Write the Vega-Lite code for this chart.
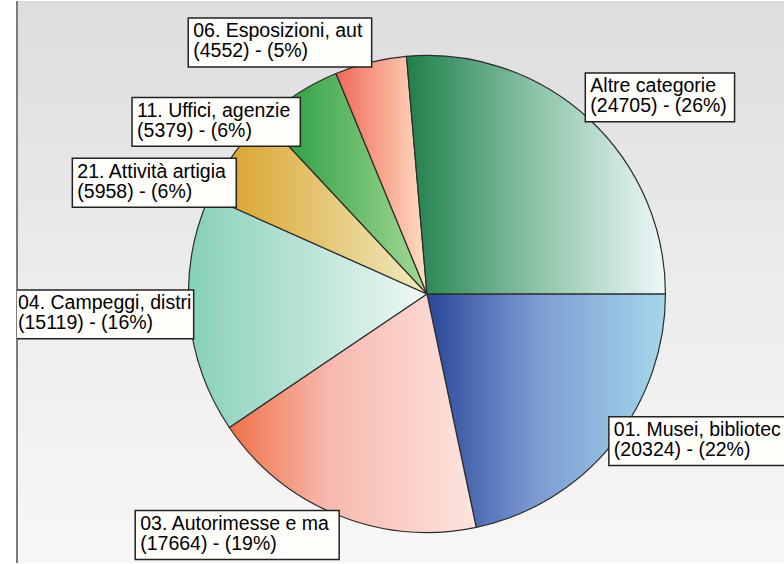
{
  "$schema": "https://vega.github.io/schema/vega-lite/v6.json",
  "width": 784,
  "height": 564,
  "autosize": {"type": "fit", "contains": "padding"},
  "padding": {"left": 16, "top": 0, "right": 0, "bottom": 0},
  "background": "#ffffff",
  "config": {
    "view": {
      "stroke": null,
      "fill": {"gradient": "linear", "x1": 0, "y1": 0, "x2": 0, "y2": 1,
        "stops": [{"offset": 0, "color": "#dddddd"}, {"offset": 0.5, "color": "#ececec"}, {"offset": 1, "color": "#f8f7f5"}]}
    }
  },
  "data": {
    "values": [
      {"k": 1, "name": "01. Musei, bibliotec", "value": 20324},
      {"k": 2, "name": "03. Autorimesse e ma", "value": 17664},
      {"k": 3, "name": "04. Campeggi, distri", "value": 15119},
      {"k": 4, "name": "21. Attività artigia", "value": 5958},
      {"k": 5, "name": "11. Uffici, agenzie", "value": 5379},
      {"k": 6, "name": "06. Esposizioni, aut", "value": 4552},
      {"k": 7, "name": "Altre categorie", "value": 24705}
    ]
  },
  "transform": [
    {"joinaggregate": [{"op": "sum", "field": "value", "as": "total"}]},
    {"stack": "value", "groupby": [], "sort": [{"field": "k", "order": "ascending"}], "as": ["v0", "v1"]},
    {"calculate": "PI/2 + 2*PI*datum.v0/datum.total", "as": "a0"},
    {"calculate": "PI/2 + 2*PI*datum.v1/datum.total", "as": "a1"},
    {"calculate": "(datum.a0 + datum.a1)/2", "as": "m"},
    {"calculate": "(datum.m*180/PI) % 360", "as": "md"},
    {"calculate": "0.98323*sin(datum.m)", "as": "ax"},
    {"calculate": "0.98323*cos(datum.m)", "as": "ay"},
    {"calculate": "round(100*datum.value/datum.total)", "as": "pct"},
    {"calculate": "'(' + datum.value + ') - (' + datum.pct + '%)'", "as": "l2"},
    {"calculate": "datum.name + '\\n' + datum.l2", "as": "lab"},
    {"calculate": "0.556*length(datum.name) - 0.334*length(replace(datum.name, regexp('[^ijl]','g'), '')) - 0.278*length(replace(datum.name, regexp('[^tf., ]','g'), '')) - 0.223*length(replace(datum.name, regexp('[^r()-]','g'), '')) - 0.056*length(replace(datum.name, regexp('[^szckvxy]','g'), '')) + 0.277*length(replace(datum.name, regexp('[^mM%]','g'), '')) + 0.14*length(replace(datum.name, regexp('[^A-LN-Z]','g'), ''))", "as": "e1"},
    {"calculate": "0.556*length(datum.l2) - 0.334*length(replace(datum.l2, regexp('[^ijl]','g'), '')) - 0.278*length(replace(datum.l2, regexp('[^tf., ]','g'), '')) - 0.223*length(replace(datum.l2, regexp('[^r()-]','g'), '')) - 0.056*length(replace(datum.l2, regexp('[^szckvxy]','g'), '')) + 0.277*length(replace(datum.l2, regexp('[^mM%]','g'), '')) + 0.14*length(replace(datum.l2, regexp('[^A-LN-Z]','g'), ''))", "as": "e2"},
    {"calculate": "(max(datum.e1, datum.e2)*19.5 + 14)/238.5", "as": "bw"},
    {"calculate": "49/238.5", "as": "bh"},
    {"calculate": "sin(datum.m) >= 0 ? datum.ax : datum.ax - datum.bw", "as": "rx0"},
    {"calculate": "datum.rx0 + datum.bw", "as": "bx1"},
    {"calculate": "max(datum.rx0, -1.72117 - 4/238.5)", "as": "bx0"},
    {"calculate": "(datum.md >= 335 || datum.md < 60) ? datum.ay + datum.bh : (((datum.md >= 60 && datum.md < 150) || (datum.md >= 250 && datum.md < 290)) ? datum.ay + datum.bh/2 : datum.ay)", "as": "by0"},
    {"calculate": "datum.by0 - datum.bh", "as": "by1"}
  ],
  "layer": [
    {
      "mark": {"type": "rule", "stroke": "#7c7c7c", "strokeWidth": 2},
      "encoding": {
        "x": {"datum": -1.72117, "type": "quantitative", "scale": {"domain": [-1.72117, 1.49895], "nice": false, "zero": false}, "axis": null}
      }
    },
    {
      "transform": [{"filter": "datum.k == 1"}],
      "mark": {"type": "arc", "outerRadius": 238.5, "stroke": "#2b2b2b", "strokeWidth": 1.2,
        "fill": {"gradient": "linear", "x1": 0, "y1": 0, "x2": 1, "y2": 0, "stops": [{"offset": 0, "color": "#2a4799"}, {"offset": 0.45, "color": "#7b9ad2"}, {"offset": 1, "color": "#a6d7ea"}]}},
      "encoding": {
        "x": {"datum": 0, "type": "quantitative", "scale": {"domain": [-1.72117, 1.49895], "nice": false, "zero": false}, "axis": null},
        "y": {"datum": 0, "type": "quantitative", "scale": {"domain": [-1.13208, 1.2327], "nice": false, "zero": false}, "axis": null},
        "theta": {"field": "a0", "type": "quantitative", "scale": null},
        "theta2": {"field": "a1"}
      }
    },
    {
      "transform": [{"filter": "datum.k == 2"}],
      "mark": {"type": "arc", "outerRadius": 238.5, "stroke": "#2b2b2b", "strokeWidth": 1.2,
        "fill": {"gradient": "linear", "x1": 0, "y1": 0, "x2": 1, "y2": 0, "stops": [{"offset": 0, "color": "#ef7148"}, {"offset": 0.4, "color": "#f7b8ae"}, {"offset": 1, "color": "#fde4e0"}]}},
      "encoding": {
        "x": {"datum": 0, "type": "quantitative", "scale": {"domain": [-1.72117, 1.49895], "nice": false, "zero": false}, "axis": null},
        "y": {"datum": 0, "type": "quantitative", "scale": {"domain": [-1.13208, 1.2327], "nice": false, "zero": false}, "axis": null},
        "theta": {"field": "a0", "type": "quantitative", "scale": null},
        "theta2": {"field": "a1"}
      }
    },
    {
      "transform": [{"filter": "datum.k == 3"}],
      "mark": {"type": "arc", "outerRadius": 238.5, "stroke": "#2b2b2b", "strokeWidth": 1.2,
        "fill": {"gradient": "linear", "x1": 0, "y1": 0, "x2": 1, "y2": 0, "stops": [{"offset": 0, "color": "#86d0b8"}, {"offset": 1, "color": "#f0f8f8"}]}},
      "encoding": {
        "x": {"datum": 0, "type": "quantitative", "scale": {"domain": [-1.72117, 1.49895], "nice": false, "zero": false}, "axis": null},
        "y": {"datum": 0, "type": "quantitative", "scale": {"domain": [-1.13208, 1.2327], "nice": false, "zero": false}, "axis": null},
        "theta": {"field": "a0", "type": "quantitative", "scale": null},
        "theta2": {"field": "a1"}
      }
    },
    {
      "transform": [{"filter": "datum.k == 4"}],
      "mark": {"type": "arc", "outerRadius": 238.5, "stroke": "#2b2b2b", "strokeWidth": 1.2,
        "fill": {"gradient": "linear", "x1": 0, "y1": 0, "x2": 1, "y2": 0, "stops": [{"offset": 0, "color": "#d99e22"}, {"offset": 1, "color": "#f0ebc2"}]}},
      "encoding": {
        "x": {"datum": 0, "type": "quantitative", "scale": {"domain": [-1.72117, 1.49895], "nice": false, "zero": false}, "axis": null},
        "y": {"datum": 0, "type": "quantitative", "scale": {"domain": [-1.13208, 1.2327], "nice": false, "zero": false}, "axis": null},
        "theta": {"field": "a0", "type": "quantitative", "scale": null},
        "theta2": {"field": "a1"}
      }
    },
    {
      "transform": [{"filter": "datum.k == 5"}],
      "mark": {"type": "arc", "outerRadius": 238.5, "stroke": "#2b2b2b", "strokeWidth": 1.2,
        "fill": {"gradient": "linear", "x1": 0, "y1": 0, "x2": 1, "y2": 0, "stops": [{"offset": 0, "color": "#1c9638"}, {"offset": 1, "color": "#a6da94"}]}},
      "encoding": {
        "x": {"datum": 0, "type": "quantitative", "scale": {"domain": [-1.72117, 1.49895], "nice": false, "zero": false}, "axis": null},
        "y": {"datum": 0, "type": "quantitative", "scale": {"domain": [-1.13208, 1.2327], "nice": false, "zero": false}, "axis": null},
        "theta": {"field": "a0", "type": "quantitative", "scale": null},
        "theta2": {"field": "a1"}
      }
    },
    {
      "transform": [{"filter": "datum.k == 6"}],
      "mark": {"type": "arc", "outerRadius": 238.5, "stroke": "#2b2b2b", "strokeWidth": 1.2,
        "fill": {"gradient": "linear", "x1": 0, "y1": 0, "x2": 1, "y2": 0, "stops": [{"offset": 0, "color": "#f06858"}, {"offset": 1, "color": "#ffdfc4"}]}},
      "encoding": {
        "x": {"datum": 0, "type": "quantitative", "scale": {"domain": [-1.72117, 1.49895], "nice": false, "zero": false}, "axis": null},
        "y": {"datum": 0, "type": "quantitative", "scale": {"domain": [-1.13208, 1.2327], "nice": false, "zero": false}, "axis": null},
        "theta": {"field": "a0", "type": "quantitative", "scale": null},
        "theta2": {"field": "a1"}
      }
    },
    {
      "transform": [{"filter": "datum.k == 7"}],
      "mark": {"type": "arc", "outerRadius": 238.5, "stroke": "#2b2b2b", "strokeWidth": 1.2,
        "fill": {"gradient": "linear", "x1": 0, "y1": 0, "x2": 1, "y2": 0, "stops": [{"offset": 0, "color": "#1f7f4a"}, {"offset": 0.5, "color": "#8cc4a8"}, {"offset": 1, "color": "#eef8fa"}]}},
      "encoding": {
        "x": {"datum": 0, "type": "quantitative", "scale": {"domain": [-1.72117, 1.49895], "nice": false, "zero": false}, "axis": null},
        "y": {"datum": 0, "type": "quantitative", "scale": {"domain": [-1.13208, 1.2327], "nice": false, "zero": false}, "axis": null},
        "theta": {"field": "a0", "type": "quantitative", "scale": null},
        "theta2": {"field": "a1"}
      }
    },
    {
      "mark": {"type": "rect", "fill": "#fffefb", "stroke": "#222222", "strokeWidth": 1.5, "clip": true},
      "encoding": {
        "x": {"field": "bx0", "type": "quantitative", "scale": {"domain": [-1.72117, 1.49895], "nice": false, "zero": false}, "axis": null},
        "x2": {"field": "bx1"},
        "y": {"field": "by0", "type": "quantitative", "scale": {"domain": [-1.13208, 1.2327], "nice": false, "zero": false}, "axis": null},
        "y2": {"field": "by1"}
      }
    },
    {
      "mark": {"type": "text", "align": "left", "baseline": "alphabetic", "dx": 5, "dy": 19.3, "font": "Liberation Sans", "fontSize": 19.5, "lineHeight": 20, "lineBreak": "\n", "color": "#000000", "clip": true},
      "encoding": {
        "x": {"field": "bx0", "type": "quantitative", "scale": {"domain": [-1.72117, 1.49895], "nice": false, "zero": false}, "axis": null},
        "y": {"field": "by0", "type": "quantitative", "scale": {"domain": [-1.13208, 1.2327], "nice": false, "zero": false}, "axis": null},
        "text": {"field": "lab"}
      }
    }
  ]
}
